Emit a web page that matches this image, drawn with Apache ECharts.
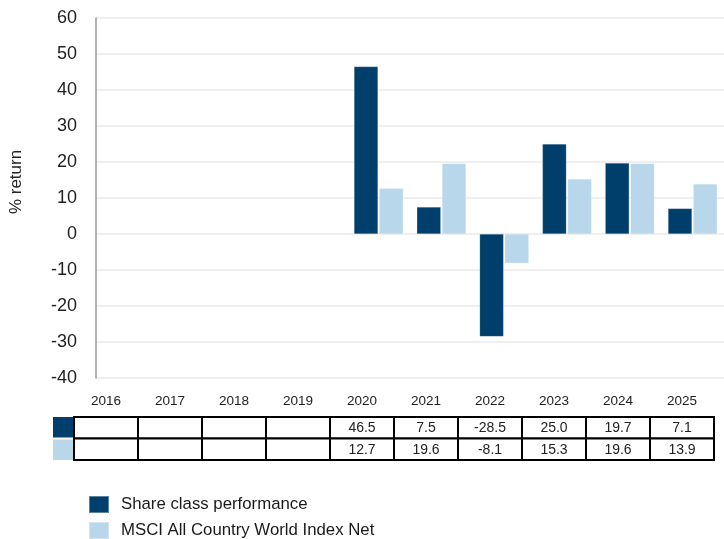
<!DOCTYPE html>
<html>
<head>
<meta charset="utf-8">
<script src="https://cdn.jsdelivr.net/npm/echarts@6/dist/echarts.min.js"></script>
<style>
  html, body { margin: 0; padding: 0; background: #ffffff; }
  #chart { width: 724px; height: 539px; }
</style>
</head>
<body>
<div id="chart"></div>
<script>
// Calendar-year returns (%), null where the share class had no full year
const years = ['2016', '2017', '2018', '2019', '2020', '2021', '2022', '2023', '2024', '2025'];
const shareClass = [null, null, null, null, 46.5, 7.5, -28.5, 25.0, 19.7, 7.1];
const msciAcwi = [null, null, null, null, 12.7, 19.6, -8.1, 15.3, 19.6, 13.9];
const seriesNames = ['Share class performance', 'MSCI All Country World Index Net'];
const yTicks = { min: -40, max: 60, interval: 10 };

const colors = ['#003f6b', '#b9d7ea'];
const font = 'Liberation Sans, Arial, sans-serif';

// Cells of the returns table underneath the chart: [column, row, value]
const rows = [shareClass, msciAcwi];
const tableCells = [];
rows.forEach((vals, r) => {
  vals.forEach((v, c) => {
    tableCells.push([c, r, v == null ? '' : v.toFixed(1)]);
  });
});

// One legend entry per line, stacked below the table
const legendTops = [490, 516];
const legends = seriesNames.map((name, i) => ({
  left: 83,
  top: legendTops[i],
  icon: 'rect',
  itemWidth: 20,
  itemHeight: 17,
  selectedMode: false,
  data: [name],
  textStyle: { fontSize: 16.8, color: '#1a1a1a', fontFamily: font, padding: [0, 0, 0, 7] }
}));

const chart = echarts.init(document.getElementById('chart'), null, { renderer: 'canvas' });

chart.setOption({
  animation: false,
  textStyle: { fontFamily: font },
  grid: [
    { left: 95, top: 18, width: 632, height: 360 },
    { left: 74, top: 417, width: 640, height: 43 }
  ],
  xAxis: [
    {
      gridIndex: 0,
      type: 'category',
      data: years,
      axisLine: { show: false },
      axisTick: { show: false },
      axisLabel: { show: false }
    },
    {
      gridIndex: 1,
      type: 'category',
      data: years,
      position: 'top',
      axisLine: { show: false },
      axisTick: { show: false },
      axisLabel: { fontSize: 13.5, color: '#222', margin: 9, fontFamily: font }
    }
  ],
  yAxis: [
    {
      gridIndex: 0,
      type: 'value',
      min: yTicks.min,
      max: yTicks.max,
      interval: yTicks.interval,
      name: '% return',
      nameLocation: 'middle',
      nameRotate: 90,
      nameGap: 71,
      nameTextStyle: { fontSize: 17, color: '#222', fontFamily: font, padding: [0, 0, 0, 32] },
      axisLine: { show: true, lineStyle: { color: '#9a9a9a', width: 1.5 } },
      axisTick: { show: false },
      axisLabel: { fontSize: 18, color: '#222', margin: 19, fontFamily: font },
      splitLine: { lineStyle: { color: '#efefef', width: 2 } }
    },
    {
      gridIndex: 1,
      type: 'category',
      data: ['0', '1'],
      inverse: true,
      show: false
    }
  ],
  legend: legends,
  series: [
    {
      name: seriesNames[0],
      type: 'bar',
      xAxisIndex: 0,
      yAxisIndex: 0,
      data: shareClass,
      barWidth: 24,
      barGap: '5%',
      itemStyle: { color: colors[0], borderColor: 'rgba(255,255,255,0.35)', borderWidth: 0.5 }
    },
    {
      name: seriesNames[1],
      type: 'bar',
      xAxisIndex: 0,
      yAxisIndex: 0,
      data: msciAcwi,
      barWidth: 24,
      barGap: '5%',
      itemStyle: { color: colors[1], borderColor: 'rgba(255,255,255,0.35)', borderWidth: 0.5 }
    },
    {
      type: 'custom',
      xAxisIndex: 1,
      yAxisIndex: 1,
      silent: true,
      data: tableCells.map(c => [c[0], c[1]]),
      renderItem: function (params, api) {
        const cell = tableCells[params.dataIndex];
        const p = api.coord([api.value(0), api.value(1)]);
        const size = api.size([1, 1]);
        const x0 = p[0] - size[0] / 2;
        const y0 = p[1] - size[1] / 2;
        const children = [
          {
            type: 'rect',
            shape: { x: x0, y: y0, width: size[0], height: size[1] },
            style: { fill: '#ffffff', stroke: '#000000', lineWidth: 2 }
          },
          {
            type: 'text',
            style: {
              x: p[0], y: p[1] + 0.5,
              text: cell[2],
              align: 'center',
              verticalAlign: 'middle',
              fontSize: 14,
              fontFamily: font,
              fill: '#222'
            }
          }
        ];
        if (cell[0] === 0) {
          // series colour key at the start of each row
          children.push({
            type: 'rect',
            shape: { x: x0 - 21, y: y0 + (cell[1] === 0 ? 0 : 1), width: 20, height: size[1] - 1 },
            style: { fill: colors[cell[1]] }
          });
        }
        return { type: 'group', children: children };
      }
    }
  ]
});
</script>
</body>
</html>
